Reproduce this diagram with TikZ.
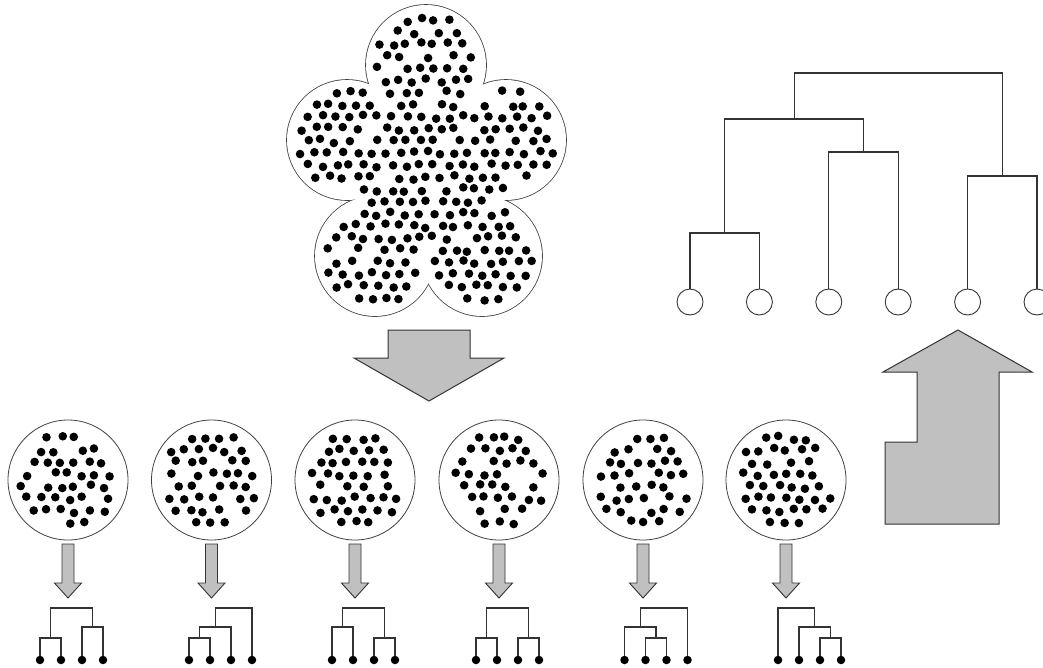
\documentclass[tikz,border=0pt]{standalone}
\usetikzlibrary{calc}
\definecolor{arrowgray}{HTML}{C0C0C0}
\definecolor{inkgray}{HTML}{333333}
\begin{document}
\begin{tikzpicture}[
  x=1pt, y=-1pt,
  blockarrow/.style={fill=arrowgray, draw=inkgray, line width=1pt, line join=miter},
  dendro/.style={draw=inkgray, line width=1.1pt},
  leafdot/.style={circle, fill=black, inner sep=0pt, minimum size=8.5pt},
  leafring/.style={circle, draw=inkgray, line width=0.9pt, inner sep=0pt, minimum size=26pt, fill=white},
  cluster/.style={circle, draw=black!75, line width=0.8pt, inner sep=0pt, minimum size=120pt},
]
\useasboundingbox (0,0) rectangle (1043,667);

% ---------- flower-shaped point cloud ----------
\foreach \cx/\cy in {426/65, 347/140, 506/140, 375/256, 482/256}
  \draw[black!75, line width=1.6pt] (\cx,\cy) circle[radius=60pt];
\foreach \cx/\cy in {426/65, 347/140, 506/140, 375/256, 482/256}
  \fill[white] (\cx,\cy) circle[radius=60pt];
\fill[white] (426,65) -- (506,140) -- (482,256) -- (375,256) -- (347,140) -- cycle;

\pgfmathsetseed{11}
\foreach \r in {0,...,26}{
  \foreach \c in {0,...,20}{
    \pgfmathsetmacro\px{287 + \c*14 + mod(\r,2)*7 + 2.3*rand}
    \pgfmathsetmacro\py{8 + \r*12.1 + 2.3*rand}
    \pgfmathsetmacro\keep{and(or(or(or(veclen(\px-426,\py-65)<51, veclen(\px-347,\py-140)<51), or(veclen(\px-506,\py-140)<51, veclen(\px-375,\py-256)<51)), or(veclen(\px-482,\py-256)<51, veclen(\px-427,\py-168)<72)), rnd>0.08)}
    \ifdim\keep pt>0.5pt \fill (\px,\py) circle[radius=4.3pt];\fi
  }
}

% ---------- big arrow down ----------
\draw[blockarrow] (388,330) -- (470,330) -- (470,358) -- (504,358) -- (429,401)
  -- (354,358) -- (388,358) -- cycle;

% ---------- six sub-clusters ----------
\newcommand\clusterdots[3]{%
  \pgfmathsetseed{#3}%
  \foreach \r in {0,...,9}{
    \foreach \c in {0,...,8}{
      \pgfmathsetmacro\px{#1 - 56 + \c*14 + mod(\r,2)*7 + 2.3*rand}
      \pgfmathsetmacro\py{#2 - 54 + \r*12.1 + 2.3*rand}
      \pgfmathsetmacro\keep{and(veclen(\px-#1,\py-#2)<49, rnd>0.12)}
      \ifdim\keep pt>0.5pt \fill (\px,\py) circle[radius=4.3pt];\fi
    }
  }%
}
\newcommand\smallarrow[1]{%
  \draw[blockarrow, line width=0.9pt] (#1-6,544) -- (#1+6,544) -- (#1+6,583) -- (#1+13.5,583)
    -- (#1,598) -- (#1-13.5,583) -- (#1-6,583) -- cycle;}

\foreach \k/\cx/\s in {1/68/3, 2/211.5/5, 3/355/8, 4/499/13, 5/643/21, 6/786/34}{
  \node[cluster] (sc\k) at (\cx,480) {};
  \clusterdots{\cx}{480}{\s}
  \smallarrow{\cx}
}

% ---------- small dendrograms ----------
\def\hA{638}\def\hB{627}\def\hR{608}\def\leafy{660}
\foreach \k/\x in {1/40, 2/189, 3/332, 4/476, 5/624.5, 6/778}{
  \foreach \i in {1,...,4}
    \node[leafdot] (d\k l\i) at ({\x+21*(\i-1)},\leafy) {};
}
% d1: ((1,2),(3,4))
\coordinate (d1a) at (50.5,\hA); \coordinate (d1b) at (92.5,\hB); \coordinate (d1r) at (71.5,\hR);
\draw[dendro] (d1l1) |- (d1a) -| (d1l2);
\draw[dendro] (d1l3) |- (d1b) -| (d1l4);
\draw[dendro] (d1a) |- (d1r) -| (d1b);
% d2: (((1,2),3),4)
\coordinate (d2a) at (199.5,\hA); \coordinate (d2b) at (215.25,\hB); \coordinate (d2r) at (233.6,\hR);
\draw[dendro] (d2l1) |- (d2a) -| (d2l2);
\draw[dendro] (d2a) |- (d2b) -| (d2l3);
\draw[dendro] (d2b) |- (d2r) -| (d2l4);
% d3: ((1,2),(3,4))
\coordinate (d3a) at (342.5,\hB); \coordinate (d3b) at (384.5,\hA); \coordinate (d3r) at (363.5,\hR);
\draw[dendro] (d3l1) |- (d3a) -| (d3l2);
\draw[dendro] (d3l3) |- (d3b) -| (d3l4);
\draw[dendro] (d3a) |- (d3r) -| (d3b);
% d4: ((1,2),(3,4))
\coordinate (d4a) at (486.5,\hA); \coordinate (d4b) at (528.5,\hA); \coordinate (d4r) at (507.5,\hR);
\draw[dendro] (d4l1) |- (d4a) -| (d4l2);
\draw[dendro] (d4l3) |- (d4b) -| (d4l4);
\draw[dendro] (d4a) |- (d4r) -| (d4b);
% d5: ((1,(2,3)),4)
\coordinate (d5a) at (656,\hA); \coordinate (d5b) at (640.25,\hB); \coordinate (d5r) at (663.4,\hR);
\draw[dendro] (d5l2) |- (d5a) -| (d5l3);
\draw[dendro] (d5l1) |- (d5b) -| (d5a);
\draw[dendro] (d5b) |- (d5r) -| (d5l4);
% d6: (1,(2,(3,4)))
\coordinate (d6a) at (830.5,\hA); \coordinate (d6b) at (814.75,\hB); \coordinate (d6r) at (796.4,\hR);
\draw[dendro] (d6l3) |- (d6a) -| (d6l4);
\draw[dendro] (d6l2) |- (d6b) -| (d6a);
\draw[dendro] (d6l1) |- (d6r) -| (d6b);

% ---------- large dendrogram ----------
\foreach \i/\x in {1/690, 2/759.4, 3/828.8, 4/898.2, 5/967.6, 6/1037}
  \node[leafring] (B\i) at (\x,302) {};
\coordinate (J12) at (724.7,233);
\coordinate (J34) at (863.5,152);
\coordinate (J14) at (794.1,119);
\coordinate (J56) at (1002.3,176);
\coordinate (JR) at (898,73);
\draw[dendro] (B1) |- (J12) -| (B2);
\draw[dendro] (B3) |- (J34) -| (B4);
\draw[dendro] (B5) |- (J56) -| (B6);
\draw[dendro] (J12) |- (J14) -| (J34);
\draw[dendro] (J14) |- (JR) -| (J56);

% ---------- big arrow up ----------
\draw[blockarrow] (958,330) -- (1032,372) -- (999,372) -- (999,524) -- (885,524)
  -- (885,442) -- (917,442) -- (917,372) -- (883,372) -- cycle;
\end{tikzpicture}
\end{document}
